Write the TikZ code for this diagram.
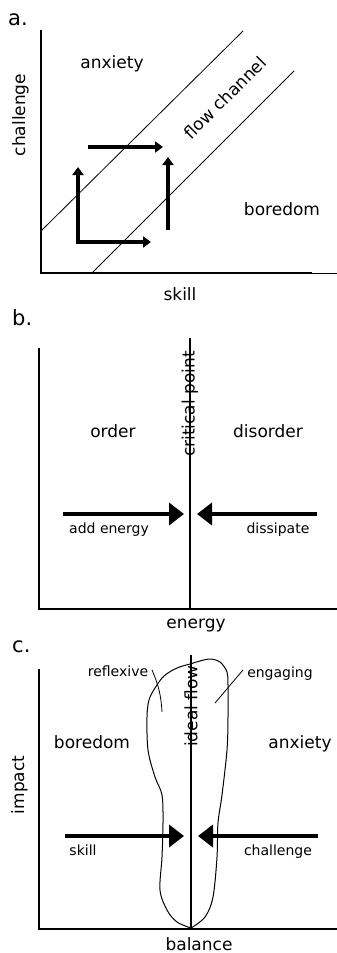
\documentclass[tikz,border=0pt]{standalone}
\usepackage{fontspec}
\setmainfont{DejaVu Sans}
\usetikzlibrary{arrows.meta}
\begin{document}
\begin{tikzpicture}[x=1pt, y=-1pt]
      \tikzstyle{axis}=[line width=1.4pt]
      \tikzstyle{big}=[font=\fontsize{17}{20}\selectfont, inner sep=0pt]
      \tikzstyle{small}=[font=\fontsize{14}{17}\selectfont, inner sep=0pt]
      \tikzstyle{tag}=[font=\fontsize{21}{24}\selectfont, inner sep=0pt, anchor=base west]
      \tikzstyle{push}=[line width=3.8pt, -{Triangle[length=8pt, width=11pt]}]
      \tikzstyle{fat}=[line width=4.6pt, -{Triangle[length=15pt, width=22pt]}]
      \useasboundingbox (0,0) rectangle (337,953);
      % a. flow channel
      \node[tag] (tag-a) at (8,25) {a.};
      \coordinate (a-o) at (41,273);
      \coordinate (a-top) at (41,30);
      \coordinate (a-end) at (312,273);
      \coordinate (a-edge) at (337,273);
      \draw[axis] (a-top) -- (a-o) -- (a-end);
      \draw[line width=0.6pt] (a-end) -- (a-edge);
      \coordinate (d1s) at (41,231);
      \coordinate (d1e) at (243,31);
      \coordinate (d2s) at (92,273);
      \coordinate (d2e) at (294,71);
      \draw[line width=0.8pt] (d1s) -- (d1e);
      \draw[line width=0.8pt] (d2s) -- (d2e);
      \coordinate (a-c) at (78,242);
      \coordinate (a-up) at (78,167);
      \coordinate (a-rt) at (151,242);
      \coordinate (a-t1) at (88,147);
      \coordinate (a-t2) at (163,147);
      \coordinate (a-r1) at (168,230);
      \coordinate (a-r2) at (168,157);
      \draw[push] (a-c) -- (a-up);
      \draw[push] ([xshift=-1.9pt]a-c) -- (a-rt);
      \draw[push] (a-t1) -- (a-t2);
      \draw[push] (a-r1) -- (a-r2);
      \node[big, anchor=base] (anx-a) at (112,68) {anxiety};
      \node[big, anchor=base] (bor-a) at (282,215) {boredom};
      \node[big, anchor=base] (skill-a) at (180,300) {skill};
      \node[big, anchor=base, rotate=90] (chal-a) at (25,115) {challenge};
      \node[big, rotate=45] (chan) at (225,98) {flow channel};
      % b. critical point
      \node[tag] (tag-b) at (12,325) {b.};
      \coordinate (b-o) at (39,609);
      \coordinate (b-top) at (39,348);
      \coordinate (b-end) at (337,609);
      \coordinate (b-mid) at (190,609);
      \coordinate (b-mtop) at (190,338);
      \draw[axis] (b-top) -- (b-o) -- (b-end);
      \draw[line width=1.2pt] (b-mid) -- (b-mtop);
      \node[big, rotate=90] (crit) at (190,404) {critical point};
      \node[big, anchor=base] (order) at (113,437) {order};
      \node[big, anchor=base] (disorder) at (268,437) {disorder};
      \coordinate (b-l) at (63,514);
      \coordinate (b-lt) at (184,514);
      \coordinate (b-r) at (317,514);
      \coordinate (b-rt) at (197,514);
      \draw[fat] (b-l) -- (b-lt);
      \draw[fat] (b-r) -- (b-rt);
      \node[small, anchor=base] (add) at (109,533) {add energy};
      \node[small, anchor=base] (diss) at (278,533) {dissipate};
      \node[big, anchor=base] (energy) at (196,628) {energy};
      % c. ideal flow
      \node[tag] (tag-c) at (12,652) {c.};
      \coordinate (c-o) at (39,929);
      \coordinate (c-top) at (39,669);
      \coordinate (c-end) at (337,929);
      \coordinate (c-mid) at (191,929);
      \coordinate (c-mtop) at (191,655);
      \draw[axis] (c-top) -- (c-o) -- (c-end);
      \draw[line width=1.2pt] (c-mid) -- (c-mtop);
      \draw[line width=1pt] plot[smooth, tension=0.55] coordinates {(191,928) (177,922) (167,910)
        (160,890) (162,857) (163,823) (162,795) (155,777) (148,750) (147,717) (149,700)
        (155,688) (164,676) (177,668) (190,664) (200,661) (210,659) (220,662) (227,672)
        (228,685) (228,717) (227,750) (222,795) (218,823) (217,857) (213,897) (205,917)
        (191,928)};
      \node[big, rotate=90] (ideal) at (191,706) {ideal flow};
      \node[big, anchor=base] (bor-c) at (92,748) {boredom};
      \node[big, anchor=base] (anx-c) at (300,748) {anxiety};
      \node[big, anchor=base, rotate=90] (impact) at (24,785) {impact};
      \node[small, anchor=base] (refl) at (118,676) {reflexive};
      \node[small, anchor=base] (eng) at (280,677) {engaging};
      \coordinate (refl-a) at (152,670);
      \coordinate (refl-b) at (162,712);
      \coordinate (eng-a) at (243,670);
      \coordinate (eng-b) at (215,703);
      \draw[line width=0.8pt] (refl-a) to[bend left=10] (refl-b);
      \draw[line width=0.8pt] (eng-a) -- (eng-b);
      \coordinate (c-l) at (65,836);
      \coordinate (c-lt) at (184,836);
      \coordinate (c-r) at (318,836);
      \coordinate (c-rt) at (198,836);
      \draw[fat] (c-l) -- (c-lt);
      \draw[fat] (c-r) -- (c-rt);
      \node[small, anchor=base] (skill-c) at (83,855) {skill};
      \node[small, anchor=base] (chal-c) at (278,855) {challenge};
      \node[big, anchor=base] (bal) at (199,950) {balance};
\end{tikzpicture}
\end{document}
